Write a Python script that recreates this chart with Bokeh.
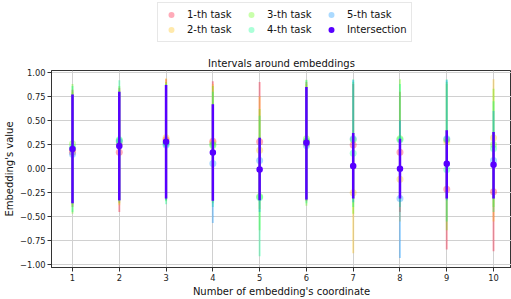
from bokeh.plotting import figure
from bokeh.layouts import column
from bokeh.models import Range1d, FixedTicker, Legend, LegendItem, Title
from bokeh.embed import file_html
from bokeh.resources import INLINE

# ---------------- data ----------------
coords = [1, 2, 3, 4, 5, 6, 7, 8, 9, 10]
task_names = ["1-th task", "2-th task", "3-th task", "4-th task", "5-th task"]

task1_pt = [0.17, 0.17, 0.30, 0.285, 0.28, 0.28, 0.245, 0.17, -0.215, -0.24]
task1_lo = [-0.40, -0.45, -0.32, -0.34, -0.33, -0.34, -0.31, -0.45, -0.84, -0.86]
task1_hi = [0.82, 0.84, 0.93, 0.91, 0.90, 0.90, 0.88, 0.80, 0.40, 0.38]

task2_pt = [0.20, 0.25, 0.32, 0.27, 0.19, 0.26, -0.25, -0.11, 0.28, 0.32]
task2_lo = [-0.38, -0.38, -0.31, -0.335, -0.42, -0.32, -0.88, -0.55, -0.31, -0.55]
task2_hi = [0.80, 0.82, 0.94, 0.88, 0.75, 0.88, 0.37, 0.31, 0.88, 0.93]

task3_pt = [0.26, 0.29, 0.27, 0.24, -0.29, 0.31, 0.30, 0.31, 0.30, 0.25]
task3_lo = [-0.47, -0.36, -0.34, -0.36, -0.64, -0.385, -0.47, -0.31, -0.64, -0.40]
task3_hi = [0.88, 0.86, 0.90, 0.86, 0.62, 0.925, 0.90, 0.93, 0.90, 0.83]

task4_pt = [0.22, 0.30, 0.26, 0.25, -0.30, 0.29, 0.16, 0.30, -0.01, 0.21]
task4_lo = [-0.45, -0.33, -0.37, -0.40, -0.91, -0.36, -0.40, -0.40, -0.55, -0.45]
task4_hi = [0.86, 0.92, 0.88, 0.80, 0.55, 0.92, 0.93, 0.88, 0.93, 0.70]

task5_pt = [0.15, 0.28, 0.245, 0.054, 0.085, 0.24, 0.31, -0.31, 0.31, 0.085]
task5_lo = [-0.36, -0.34, -0.33, -0.565, -0.45, -0.33, -0.35, -0.93, -0.33, -0.31]
task5_hi = [0.77, 0.80, 0.87, 0.67, 0.32, 0.85, 0.92, 0.50, 0.92, 0.60]

inter_name = "Intersection"
inter_pt = [0.205, 0.235, 0.28, 0.167, -0.01, 0.27, 0.027, 0.0, 0.05, 0.04]
inter_lo = [-0.36, -0.33, -0.31, -0.335, -0.33, -0.32, -0.31, -0.31, -0.31, -0.31]
inter_hi = [0.77, 0.80, 0.87, 0.67, 0.32, 0.85, 0.37, 0.31, 0.40, 0.38]

ytick_vals = [-1.0, -0.75, -0.5, -0.25, 0.0, 0.25, 0.5, 0.75, 1.0]
ytick_labels = ["\u22121.00", "\u22120.75", "\u22120.50", "\u22120.25", "0.00",
                "0.25", "0.50", "0.75", "1.00"]
xtick_vals = coords

# ---------------- style ----------------
task_colors = ["#ff0029", "#ffbc00", "#5cff00", "#00ff89", "#008fff"]
inter_color = "#5700ff"
FONT = "DejaVu Sans"
TASK_ALPHA = 0.33
LEG_H = 44

# ---------------- main plot ----------------
p = figure(width=511, height=299 - LEG_H, output_backend="svg",
           toolbar_location=None, title=None,
           x_range=Range1d(0.551, 10.384), y_range=Range1d(-1.028, 1.0205),
           min_border_left=51, min_border_right=0, min_border_top=70 - LEG_H,
           min_border_bottom=29)

p.background_fill_color = "white"
p.border_fill_color = "white"
p.outline_line_color = "#333333"
p.outline_line_width = 1

p.xaxis.ticker = FixedTicker(ticks=xtick_vals)
p.yaxis.ticker = FixedTicker(ticks=ytick_vals)
p.yaxis.major_label_overrides = {v: s for v, s in zip(ytick_vals, ytick_labels)}
for ax in (p.xaxis, p.yaxis):
    ax.axis_line_color = "#333333"
    ax.major_tick_line_color = "#333333"
    ax.major_tick_out = 4
    ax.major_tick_in = 0
    ax.minor_tick_out = 0
    ax.minor_tick_in = 0
    ax.major_label_text_font = FONT
    ax.major_label_text_font_size = "8.3px"
    ax.major_label_text_color = "#222222"
    ax.major_label_standoff = 2
    ax.axis_label_text_font = FONT
    ax.axis_label_text_font_size = "10px"
    ax.axis_label_text_font_style = "normal"
    ax.axis_label_text_color = "#111111"
    ax.axis_label_standoff = 2
p.xaxis.axis_label = "Number of embedding's coordinate"
p.yaxis.axis_label = "Embedding's value"

p.xgrid.grid_line_color = "#d0d0d0"
p.ygrid.grid_line_color = "#d0d0d0"
p.xgrid.ticker = FixedTicker(ticks=xtick_vals)
p.ygrid.ticker = FixedTicker(ticks=ytick_vals)

tasks = [(task1_pt, task1_lo, task1_hi), (task2_pt, task2_lo, task2_hi),
         (task3_pt, task3_lo, task3_hi), (task4_pt, task4_lo, task4_hi),
         (task5_pt, task5_lo, task5_hi)]

for (pt, lo, hi), col in zip(tasks, task_colors):
    p.segment(x0=coords, y0=lo, x1=coords, y1=hi, line_color=col,
              line_width=2, line_alpha=0.35)
    p.scatter(x=coords, y=pt, size=7, fill_color=col, line_color=col,
              fill_alpha=TASK_ALPHA, line_alpha=0.0)

p.segment(x0=coords, y0=inter_lo, x1=coords, y1=inter_hi, line_color=inter_color,
          line_width=2.5, line_alpha=1.0)
p.scatter(x=coords, y=inter_pt, size=6.5, fill_color=inter_color,
          line_color=inter_color, line_alpha=0.0)

title = Title(text="Intervals around embeddings", align="center",
              text_font=FONT, text_font_size="10px", text_font_style="normal",
              text_color="#111111", offset=0, standoff=3)
p.add_layout(title, "above")

# ---------------- legend strip ----------------
# its key renderers carry the same series, but lie outside this strip's ranges
lf = figure(width=511, height=LEG_H, output_backend="svg", toolbar_location=None,
            title=None, x_axis_type=None, y_axis_type=None,
            x_range=Range1d(100, 101), y_range=Range1d(100, 101),
            min_border_left=0, min_border_right=0, min_border_top=0,
            min_border_bottom=0)
lf.outline_line_color = None
lf.xgrid.visible = False
lf.ygrid.visible = False

key_items = []
for (pt, lo, hi), name, col in zip(tasks, task_names, task_colors):
    r = lf.scatter(x=coords, y=pt, size=7, fill_color=col, line_color=col,
                   fill_alpha=TASK_ALPHA, line_alpha=0.0)
    key_items.append(LegendItem(label=name, renderers=[r]))
ri = lf.scatter(x=coords, y=inter_pt, size=7, fill_color=inter_color,
                line_color=inter_color, line_alpha=0.0)
key_items.append(LegendItem(label=inter_name, renderers=[ri]))

# matplotlib-style column-major order in a 3-column, row-filled legend
ordered = [key_items[0], key_items[2], key_items[4],
           key_items[1], key_items[3], key_items[5]]
legend = Legend(items=ordered, ncols=3, orientation="horizontal",
                location=(106, 2),
                label_text_font=FONT, label_text_font_size="10px",
                label_text_color="#111111",
                border_line_color="#d0d0d0", border_line_width=1,
                background_fill_alpha=1.0,
                glyph_width=18, glyph_height=15, label_standoff=7,
                label_width=55, label_height=12, spacing=0, padding=4,
                margin=0)
lf.add_layout(legend, "center")

layout = column(lf, p, spacing=0)
open("out.html", "w").write(file_html(layout, INLINE))
